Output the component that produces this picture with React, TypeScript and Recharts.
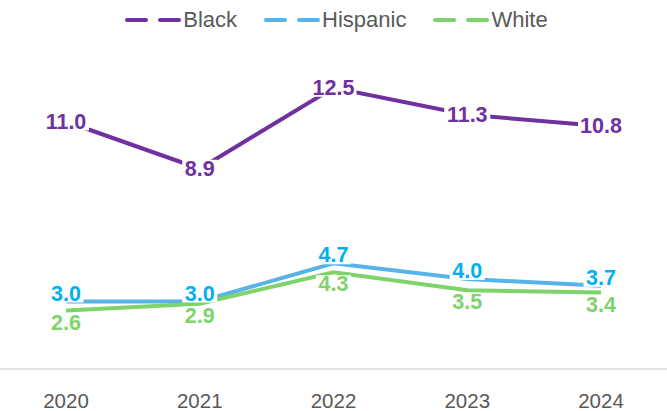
import React from "react";
import { LineChart, Line, XAxis, YAxis, Legend, LabelList } from "recharts";

const years = ["2020", "2021", "2022", "2023", "2024"];
const black = [11.0, 8.9, 12.5, 11.3, 10.8];
const hispanic = [3.0, 3.0, 4.7, 4.0, 3.7];
const white = [2.6, 2.9, 4.3, 3.5, 3.4];

const series = [
  { key: "Black", values: black, line: "#7030A0", label: "#7030A0", dy: 0 },
  { key: "Hispanic", values: hispanic, line: "#56B4E9", label: "#00B0F0", dy: -8 },
  { key: "White", values: white, line: "#7ED36B", label: "#7ED36B", dy: 12 },
];

const data = years.map((year, i) => ({
  year,
  Black: black[i],
  Hispanic: hispanic[i],
  White: white[i],
}));

const FONT = "'Liberation Sans', Arial, sans-serif";

function makeLabel(color: string, dy: number) {
  return (props: any) => {
    const { x, y, value } = props;
    const text = Number(value).toFixed(1);
    const w = text.length * 11 + 2;
    const h = 18;
    return (
      <g>
        <rect x={x - w / 2} y={y + dy - h / 2} width={w} height={h} fill="#fff" />
        <text
          x={x}
          y={y + dy}
          textAnchor="middle"
          dominantBaseline="central"
          fill={color}
          fontSize={21.5}
          fontWeight={700}
          fontFamily={FONT}
        >
          {text}
        </text>
      </g>
    );
  };
}

function LegendContent() {
  return (
    <div style={{ display: "flex", justifyContent: "center", gap: 27, marginLeft: 6, height: 26 }}>
      {series.map((s) => (
        <div key={s.key} style={{ display: "flex", alignItems: "center" }}>
          <svg width={56} height={10}>
            <line x1={2} y1={5} x2={21} y2={5} stroke={s.line} strokeWidth={4} strokeLinecap="round" />
            <line x1={35} y1={5} x2={54} y2={5} stroke={s.line} strokeWidth={4} strokeLinecap="round" />
          </svg>
          <span style={{ fontFamily: FONT, fontSize: 22, lineHeight: "26px", color: "#595959", marginLeft: 2 }}>
            {s.key}
          </span>
        </div>
      ))}
    </div>
  );
}

export default function App() {
  return (
    <div style={{ position: "absolute", left: 0, top: 0, width: 667, height: 411, background: "#fff" }}>
      <LineChart width={667} height={411} data={data} margin={{ top: 28, right: 0, bottom: 0, left: 0 }}>
        <XAxis
          dataKey="year"
          padding={{ left: 66, right: 66 }}
          axisLine={{ stroke: "#D9D9D9", strokeWidth: 1.5 }}
          tickLine={false}
          height={42}
          tick={{ fill: "#595959", fontSize: 20.5, fontFamily: FONT, dy: 16 }}
        />
        <YAxis hide domain={[0, 14]} />
        <Legend verticalAlign="top" content={<LegendContent />} wrapperStyle={{ top: 7, left: 0, width: 667 }} />
        {series.map((s) => (
          <Line
            key={s.key}
            dataKey={s.key}
            stroke={s.line}
            strokeWidth={4}
            dot={false}
            activeDot={false}
            isAnimationActive={false}
          >
            <LabelList dataKey={s.key} content={makeLabel(s.label, s.dy)} />
          </Line>
        ))}
      </LineChart>
    </div>
  );
}
